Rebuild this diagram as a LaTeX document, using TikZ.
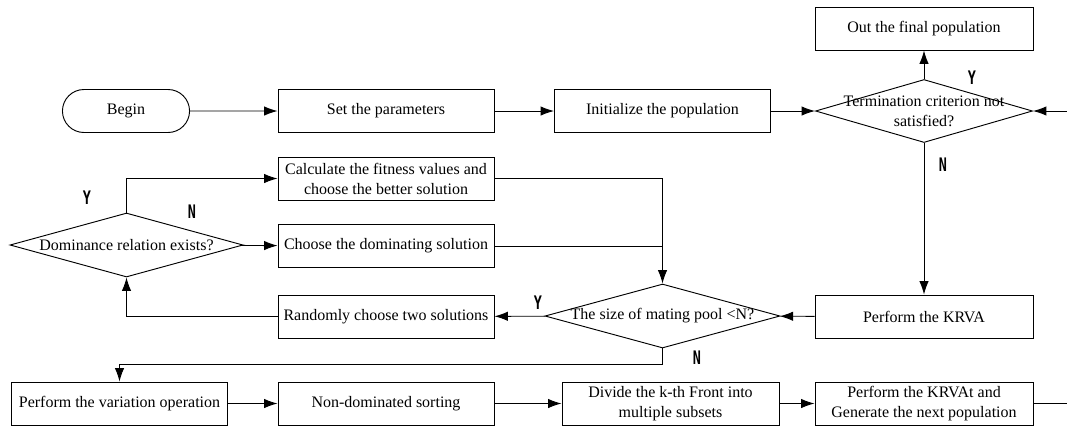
\documentclass[tikz,border=0pt]{standalone}
\usepackage{fontspec}
\setmainfont{Liberation Serif}
\newfontfamily\ynfont[FakeStretch=0.72]{DejaVu Sans Mono}
\usetikzlibrary{arrows.meta, shapes.geometric, shapes.misc, positioning}

\begin{document}
\begin{tikzpicture}[x=0.75pt, y=-0.75pt, line width=0.7pt,
        font=\fontsize{12}{15}\selectfont,
        box/.style={draw, rectangle, minimum width=162pt, minimum height=32.25pt, align=center, inner sep=2pt},
        dec/.style={draw, diamond, inner sep=0pt},
        yn/.style={font=\ynfont\bfseries\fontsize{14}{14}\selectfont},
        arr/.style={-{Latex[length=10pt,width=7pt]}}]
        \useasboundingbox (0,0) rectangle (1067,426);

        % top row
        \node[draw, rounded rectangle, minimum width=102pt, minimum height=32.25pt] (begin) at (126,111) {Begin};
        \node[box] (param) at (386,111) {Set the parameters};
        \node[box] (init) at (662.5,111) {Initialize the population};
        \node[dec, minimum width=162.75pt, minimum height=47.25pt,
              label={[align=center]center:Termination criterion not\\satisfied?}] (term) at (924,111) {};
        \node[box, minimum width=163.5pt] (out) at (924,28.5) {Out the final population};

        % selection
        \node[box] (calc) at (386,178.5) {Calculate the fitness values and\\choose the better solution};
        \node[dec, minimum width=174.75pt, minimum height=48pt,
              label={center:Dominance relation exists?}] (dom) at (126.5,245) {};
        \node[box] (choose) at (386,246) {Choose the dominating solution};
        \node[box] (rand) at (386,316.5) {Randomly choose two solutions};
        \node[dec, minimum width=176.25pt, minimum height=48pt,
              label={center:The size of mating pool <N?}] (pool) at (662.5,316) {};
        \node[box, minimum width=163.5pt] (krva) at (924,316.5) {Perform the KRVA};

        % bottom row
        \node[box] (var) at (119.5,403.5) {Perform the variation operation};
        \node[box] (sort) at (386,403.5) {Non-dominated sorting};
        \node[box, minimum width=162.75pt] (divide) at (670.5,403.5) {Divide the k-th Front into\\multiple subsets};
        \node[box, minimum width=163.5pt] (gen) at (924,403.5) {Perform the KRVAt and\\Generate the next population};

        \draw[arr] (begin) -- (param);
        \draw[arr] (param) -- (init);
        \draw[arr] (init) -- (term);
        \draw[arr] (term) -- (out);
        \draw[arr] (term) -- (krva);
        \draw[arr] (krva) -- (pool);
        \draw[arr] (pool) -- (rand);
        \draw[arr] (rand) -| (dom);
        \draw[arr] (dom) |- (calc);
        \draw[arr] (dom) -- (choose);
        \draw[arr] (calc) -| (pool);
        \draw (choose.east) -- (choose.east -| pool.north);
        \draw[arr] (pool.south) -- ++(0,16) -| (var.north);
        \draw[arr] (var) -- (sort);
        \draw[arr] (sort) -- (divide);
        \draw[arr] (divide) -- (gen);
        \draw[arr] (gen.east) -- ++(48,0) |- (term.east);

        \node[yn] (ty) at (972,78) {Y};
        \node[yn] (tn) at (943,165) {N};
        \node[yn] (dy) at (87,198) {Y};
        \node[yn] (dn) at (192,212) {N};
        \node[yn] (py) at (538,303) {Y};
        \node[yn] (pn) at (697,358) {N};
      \end{tikzpicture}
\end{document}
